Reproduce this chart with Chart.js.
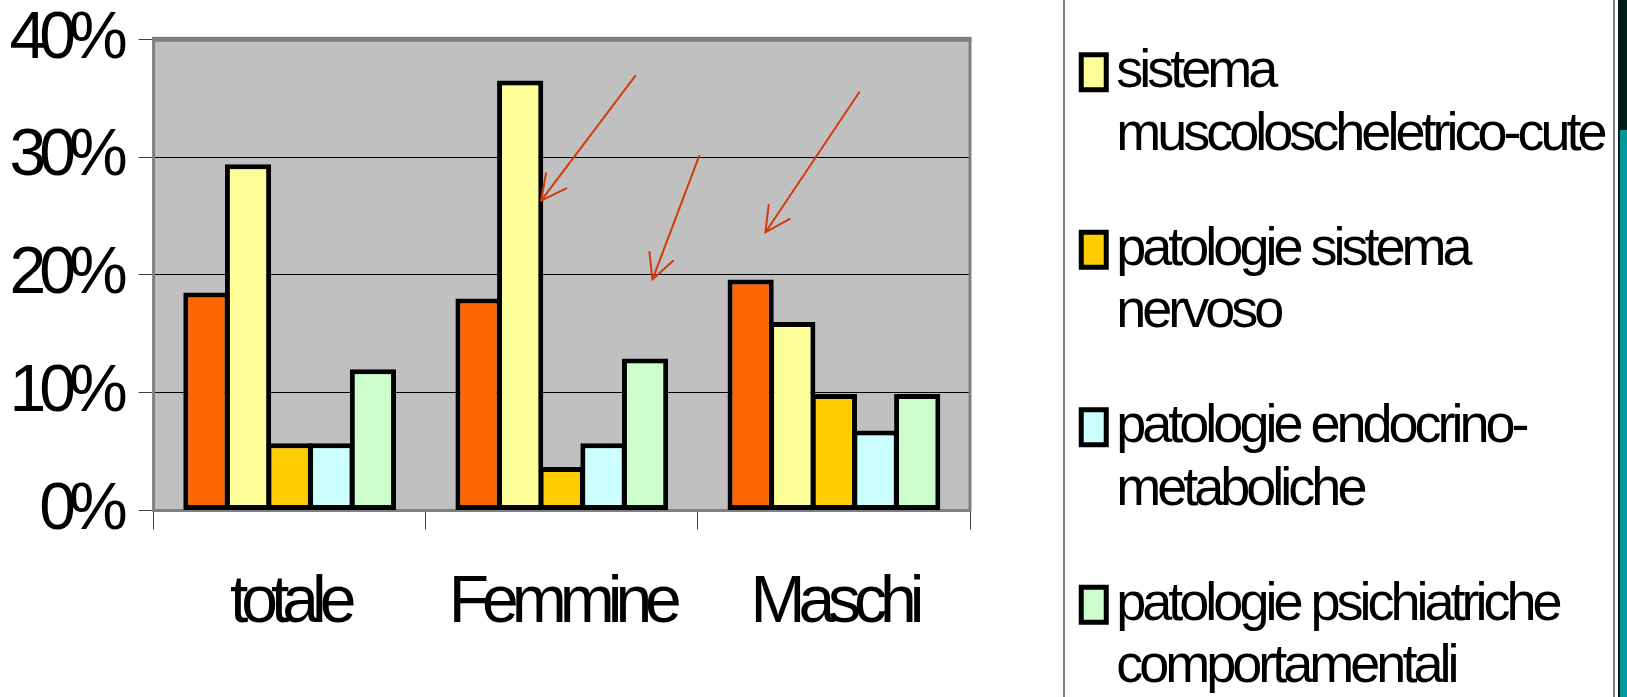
<!DOCTYPE html>
<html>
<head>
<meta charset="utf-8">
<script src="https://cdn.jsdelivr.net/npm/chart.js@4.4.1/dist/chart.umd.min.js"></script>
<style>
  html, body { margin: 0; padding: 0; background: #fff; }
  #box { width: 1627px; height: 697px; }
</style>
</head>
<body>
<div id="box"><canvas id="grafico"></canvas></div>
<script>
const categorie = ['totale', 'Femmine', 'Maschi'];
const etichetteY = ['0%', '10%', '20%', '30%', '40%'];

const altrePatologie = [18.5, 18.0, 19.6];
const muscoloscheletrico = [29.4, 36.5, 16.0];
const nervoso = [5.7, 3.7, 9.9];
const endocrino = [5.7, 5.7, 6.8];
const psichiatriche = [12.0, 12.9, 9.9];

const nomiSerie = [
    'altre patologie',
    'sistema muscoloscheletrico-cute',
    'patologie sistema nervoso',
    'patologie endocrino-metaboliche',
    'patologie psichiatriche comportamentali'
];
const righeLegenda = [
    ['altre patologie'],
    ['sistema', 'muscoloscheletrico-cute'],
    ['patologie sistema', 'nervoso'],
    ['patologie endocrino-', 'metaboliche'],
    ['patologie psichiatriche', 'comportamentali']
];
const coloriSerie = ['#FF6600', '#FFFF99', '#FFCC00', '#CCFFFF', '#CCFFCC'];

// red arrows drawn on the slide, in data units: [category index, percent]
const frecceDa = [[1.27, 36.9], [1.505, 30.1], [2.093, 35.5]];
const frecceA = [[0.924, 26.3], [1.333, 19.6], [1.748, 23.6]];

const FONT = "'Liberation Sans', Arial, sans-serif";

function serie(i, data) {
    return {
        label: nomiSerie[i],
        data: data,
        backgroundColor: coloriSerie[i],
        borderColor: '#000',
        borderWidth: 5,
        borderSkipped: false,
        barPercentage: 1.11, // bars overlap a little so neighbours share one border
        categoryPercentage: 0.765
    };
}

const decorazioni = {
    id: 'decorazioni',
    afterInit(chart) {
        const legenda = chart.legend;
        const fitOrig = legenda.fit.bind(legenda);
        legenda.fit = function () {
            fitOrig();
            this.width = 657; // legend column takes the whole right side
        };
        const drawOrig = legenda.draw.bind(legenda);
        legenda.draw = function (area) {
            const ctx = chart.ctx;
            ctx.save();
            ctx.letterSpacing = '-4px';
            // text sits closer to the swatch than Chart.js puts it
            ctx.fillText = function (t, x, y, w) {
                return CanvasRenderingContext2D.prototype.fillText.call(this, t, x - 17, y, w);
            };
            drawOrig(area);
            delete ctx.fillText;
            ctx.restore();
        };
    },
    beforeLayout(chart) {
        chart.ctx.letterSpacing = '-7px';
    },
    afterLayout(chart) {
        const l = chart.legend;
        l.left = 1028.75;
        l.right = 1627;
        l.top = -7.2;
        l.bottom = 720;
    },
    beforeDraw(chart) {
        const { ctx, chartArea: a } = chart;
        ctx.letterSpacing = '-7px';
        ctx.save();
        ctx.fillStyle = '#C0C0C0';
        ctx.fillRect(a.left, a.top, a.right - a.left, a.bottom - a.top);
        // legend frame and the edge of the slide
        ctx.fillStyle = '#808080';
        ctx.fillRect(1063, 0, 2, 697);
        ctx.fillRect(1613, 0, 2, 697);
        ctx.fillStyle = '#009999';
        ctx.fillRect(1618, 0, 9, 697);
        ctx.fillStyle = '#001A1A';
        ctx.fillRect(1618, 0, 9, 130);
        ctx.fillRect(1618, 0, 2, 697);
        ctx.restore();
    },
    beforeDatasetsDraw(chart) {
        const { ctx, chartArea: a } = chart;
        ctx.save();
        ctx.strokeStyle = '#808080';
        ctx.lineWidth = 3;
        ctx.strokeRect(a.left, a.top, a.right - a.left, a.bottom - a.top);
        ctx.fillStyle = '#808080';
        ctx.fillRect(a.left - 1.5, a.top - 2.5, a.right - a.left + 3, 5);
        ctx.restore();
    },
    afterDatasetsDraw(chart) {
        const { ctx, scales: { x, y } } = chart;
        ctx.save();
        ctx.strokeStyle = '#D03C0C';
        ctx.lineWidth = 2;
        ctx.lineCap = 'round';
        frecceDa.forEach((da, i) => {
            const a = frecceA[i];
            const x0 = x.getPixelForValue(da[0]), y0 = y.getPixelForValue(da[1]);
            const x1 = x.getPixelForValue(a[0]), y1 = y.getPixelForValue(a[1]);
            const ang = Math.atan2(y0 - y1, x0 - x1);
            ctx.beginPath();
            ctx.moveTo(x0, y0);
            ctx.lineTo(x1, y1);
            [-0.47, 0.47].forEach(d => {
                ctx.moveTo(x1, y1);
                ctx.lineTo(x1 + 28 * Math.cos(ang + d), y1 + 28 * Math.sin(ang + d));
            });
            ctx.stroke();
        });
        ctx.restore();
    }
};

new Chart(document.getElementById('grafico'), {
    type: 'bar',
    data: {
        labels: categorie,
        datasets: [
            serie(0, altrePatologie),
            serie(1, muscoloscheletrico),
            serie(2, nervoso),
            serie(3, endocrino),
            serie(4, psichiatriche)
        ]
    },
    options: {
        responsive: true,
        maintainAspectRatio: false,
        animation: false,
        layout: { padding: 0 },
        scales: {
            x: {
                grid: { offset: true, drawOnChartArea: false, drawTicks: true, tickLength: 19, color: '#404040', lineWidth: 1 },
                border: { display: false },
                ticks: { color: '#000', font: { family: FONT, size: 66 }, padding: 35, maxRotation: 0, autoSkip: false },
                afterFit(s) { s.height = 186.5; s.paddingLeft = 0; s.paddingRight = 0; }
            },
            y: {
                min: 0,
                max: 40,
                grid: { color: '#000', lineWidth: 1, tickLength: 15, tickColor: '#404040' },
                border: { display: false },
                ticks: {
                    stepSize: 10,
                    padding: 18,
                    color: '#000',
                    font: { family: FONT, size: 66 },
                    callback: (v, i) => etichetteY[i]
                },
                afterFit(s) { s.width = 153.6; s.paddingTop = 39.3; s.paddingBottom = 0; }
            }
        },
        plugins: {
            legend: {
                position: 'right',
                align: 'start',
                labels: {
                    boxWidth: 25,
                    boxHeight: 35,
                    padding: 52.5,
                    color: '#000',
                    font: { family: FONT, size: 54, lineHeight: 62.5 / 54 },
                    filter: (item) => item.datasetIndex > 0,
                    generateLabels(chart) {
                        const voci = Chart.defaults.plugins.legend.labels.generateLabels(chart);
                        voci.forEach(v => { v.text = righeLegenda[v.datasetIndex]; });
                        return voci;
                    }
                }
            },
            tooltip: { enabled: false }
        }
    },
    plugins: [decorazioni]
});
</script>
</body>
</html>
